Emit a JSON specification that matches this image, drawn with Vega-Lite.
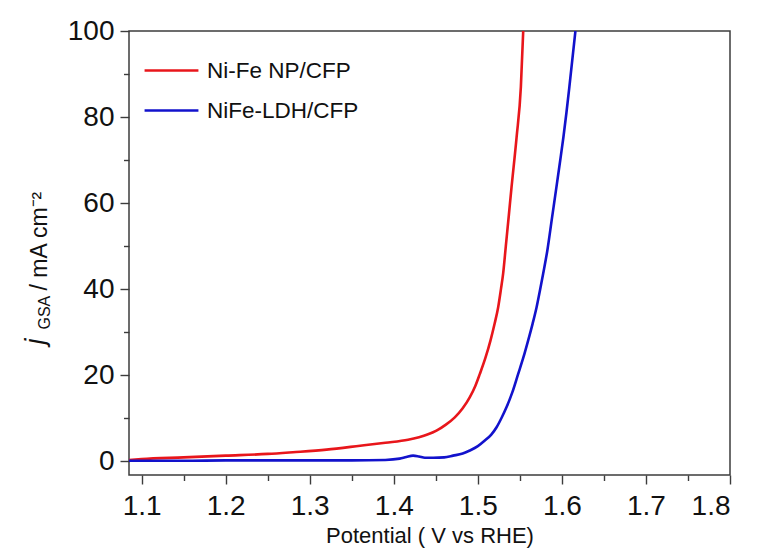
{
  "$schema": "https://vega.github.io/schema/vega-lite/v6.json",
  "width": 601,
  "height": 444,
  "autosize": {"type": "none"},
  "padding": {"left": 129, "top": 31, "right": 27, "bottom": 77},
  "background": "white",
  "config": {
    "font": "Liberation Sans",
    "view": {"stroke": "#3c3c3c", "strokeWidth": 1.5},
    "axis": {
      "grid": false,
      "domain": false,
      "tickColor": "#3c3c3c",
      "tickWidth": 1.4,
      "labelColor": "#111111",
      "titleColor": "#111111",
      "labelFont": "Liberation Sans",
      "titleFont": "Liberation Sans",
      "titleFontWeight": "normal"
    }
  },
  "data": {
    "values": [
      {"series": "Ni-Fe NP/CFP", "V": 1.085, "j": 0.3},
      {"series": "Ni-Fe NP/CFP", "V": 1.1, "j": 0.5},
      {"series": "Ni-Fe NP/CFP", "V": 1.15, "j": 0.9},
      {"series": "Ni-Fe NP/CFP", "V": 1.2, "j": 1.3},
      {"series": "Ni-Fe NP/CFP", "V": 1.25, "j": 1.7},
      {"series": "Ni-Fe NP/CFP", "V": 1.28, "j": 2.1},
      {"series": "Ni-Fe NP/CFP", "V": 1.32, "j": 2.7},
      {"series": "Ni-Fe NP/CFP", "V": 1.36, "j": 3.6},
      {"series": "Ni-Fe NP/CFP", "V": 1.39, "j": 4.3},
      {"series": "Ni-Fe NP/CFP", "V": 1.417, "j": 5.0},
      {"series": "Ni-Fe NP/CFP", "V": 1.43, "j": 5.6},
      {"series": "Ni-Fe NP/CFP", "V": 1.44, "j": 6.2},
      {"series": "Ni-Fe NP/CFP", "V": 1.4508, "j": 7.1},
      {"series": "Ni-Fe NP/CFP", "V": 1.462, "j": 8.5},
      {"series": "Ni-Fe NP/CFP", "V": 1.4726, "j": 10.2},
      {"series": "Ni-Fe NP/CFP", "V": 1.482, "j": 12.3},
      {"series": "Ni-Fe NP/CFP", "V": 1.4905, "j": 14.9},
      {"series": "Ni-Fe NP/CFP", "V": 1.497, "j": 17.5},
      {"series": "Ni-Fe NP/CFP", "V": 1.5024, "j": 20.3},
      {"series": "Ni-Fe NP/CFP", "V": 1.509, "j": 24.0},
      {"series": "Ni-Fe NP/CFP", "V": 1.5151, "j": 28.1},
      {"series": "Ni-Fe NP/CFP", "V": 1.52, "j": 32.0},
      {"series": "Ni-Fe NP/CFP", "V": 1.5242, "j": 35.8},
      {"series": "Ni-Fe NP/CFP", "V": 1.5275, "j": 40.0},
      {"series": "Ni-Fe NP/CFP", "V": 1.5301, "j": 43.6},
      {"series": "Ni-Fe NP/CFP", "V": 1.5333, "j": 50.0},
      {"series": "Ni-Fe NP/CFP", "V": 1.5368, "j": 57.0},
      {"series": "Ni-Fe NP/CFP", "V": 1.5401, "j": 63.7},
      {"series": "Ni-Fe NP/CFP", "V": 1.5461, "j": 75.3},
      {"series": "Ni-Fe NP/CFP", "V": 1.5512, "j": 87.0},
      {"series": "Ni-Fe NP/CFP", "V": 1.554, "j": 100.0},
      {"series": "NiFe-LDH/CFP", "V": 1.085, "j": 0.1},
      {"series": "NiFe-LDH/CFP", "V": 1.15, "j": 0.1},
      {"series": "NiFe-LDH/CFP", "V": 1.2, "j": 0.2},
      {"series": "NiFe-LDH/CFP", "V": 1.3, "j": 0.2},
      {"series": "NiFe-LDH/CFP", "V": 1.35, "j": 0.2},
      {"series": "NiFe-LDH/CFP", "V": 1.39, "j": 0.3},
      {"series": "NiFe-LDH/CFP", "V": 1.407, "j": 0.6},
      {"series": "NiFe-LDH/CFP", "V": 1.415, "j": 1.0},
      {"series": "NiFe-LDH/CFP", "V": 1.423, "j": 1.3},
      {"series": "NiFe-LDH/CFP", "V": 1.43, "j": 1.1},
      {"series": "NiFe-LDH/CFP", "V": 1.437, "j": 0.8},
      {"series": "NiFe-LDH/CFP", "V": 1.447, "j": 0.8},
      {"series": "NiFe-LDH/CFP", "V": 1.46, "j": 0.9},
      {"series": "NiFe-LDH/CFP", "V": 1.4706, "j": 1.3},
      {"series": "NiFe-LDH/CFP", "V": 1.482, "j": 1.8},
      {"series": "NiFe-LDH/CFP", "V": 1.4905, "j": 2.5},
      {"series": "NiFe-LDH/CFP", "V": 1.5, "j": 3.5},
      {"series": "NiFe-LDH/CFP", "V": 1.5083, "j": 4.8},
      {"series": "NiFe-LDH/CFP", "V": 1.516, "j": 6.2},
      {"series": "NiFe-LDH/CFP", "V": 1.5223, "j": 7.9},
      {"series": "NiFe-LDH/CFP", "V": 1.528, "j": 10.0},
      {"series": "NiFe-LDH/CFP", "V": 1.5342, "j": 12.6},
      {"series": "NiFe-LDH/CFP", "V": 1.541, "j": 16.0},
      {"series": "NiFe-LDH/CFP", "V": 1.548, "j": 20.3},
      {"series": "NiFe-LDH/CFP", "V": 1.554, "j": 24.0},
      {"series": "NiFe-LDH/CFP", "V": 1.5599, "j": 28.1},
      {"series": "NiFe-LDH/CFP", "V": 1.5652, "j": 32.0},
      {"series": "NiFe-LDH/CFP", "V": 1.5699, "j": 35.8},
      {"series": "NiFe-LDH/CFP", "V": 1.574, "j": 39.8},
      {"series": "NiFe-LDH/CFP", "V": 1.5777, "j": 43.6},
      {"series": "NiFe-LDH/CFP", "V": 1.5827, "j": 49.0},
      {"series": "NiFe-LDH/CFP", "V": 1.5882, "j": 56.5},
      {"series": "NiFe-LDH/CFP", "V": 1.5935, "j": 63.7},
      {"series": "NiFe-LDH/CFP", "V": 1.5977, "j": 69.5},
      {"series": "NiFe-LDH/CFP", "V": 1.6018, "j": 75.3},
      {"series": "NiFe-LDH/CFP", "V": 1.6054, "j": 81.0},
      {"series": "NiFe-LDH/CFP", "V": 1.6089, "j": 87.0},
      {"series": "NiFe-LDH/CFP", "V": 1.6161, "j": 100.0}
    ]
  },
  "layer": [
    {
      "transform": [{"filter": "datum.series === 'Ni-Fe NP/CFP'"}],
      "mark": {"type": "line", "strokeWidth": 2.6, "clip": true, "interpolate": "monotone"},
      "encoding": {
        "x": {
          "field": "V", "type": "quantitative",
          "scale": {"domain": [1.085, 1.8], "nice": false, "zero": false},
          "axis": {
            "orient": "bottom",
            "values": [1.1, 1.2, 1.3, 1.4, 1.5, 1.6, 1.7, 1.8],
            "format": ".1f",
            "tickSize": 9,
            "labelFontSize": 28,
            "labelPadding": 8,
            "title": "Potential ( V vs RHE)",
            "titleFontSize": 22,
            "titleBaseline": "alphabetic",
            "titleY": 67
          }
        },
        "y": {
          "field": "j", "type": "quantitative",
          "scale": {"domain": [-3.2, 100], "nice": false, "zero": false},
          "axis": {
            "orient": "left",
            "values": [0, 20, 40, 60, 80, 100],
            "tickSize": 9,
            "labelFontSize": 28,
            "labelPadding": 6,
            "title": "j",
            "titleFontStyle": "italic",
            "titleFontSize": 27,
            "titleAngle": 270,
            "titleAlign": "left",
            "titleBaseline": "alphabetic",
            "titleX": -86,
            "titleY": 313
          }
        },
        "color": {
          "field": "series", "type": "nominal",
          "scale": {"domain": ["Ni-Fe NP/CFP", "NiFe-LDH/CFP"], "range": ["#e8161b", "#1212cc"]},
          "legend": {
            "orient": "none",
            "legendX": 14,
            "legendY": 11,
            "title": null,
            "padding": 0,
            "symbolType": "stroke",
            "symbolSize": 2900,
            "symbolStrokeWidth": 2.6,
            "labelFontSize": 22.5,
            "labelFont": "Liberation Sans",
            "labelColor": "#111111",
            "labelOffset": 7,
            "rowPadding": -4
          }
        }
      }
    },
    {
      "transform": [{"filter": "datum.series === 'NiFe-LDH/CFP'"}],
      "mark": {"type": "line", "strokeWidth": 2.6, "clip": true, "interpolate": "monotone"},
      "encoding": {
        "x": {
          "field": "V", "type": "quantitative",
          "scale": {"domain": [1.085, 1.8], "nice": false, "zero": false},
          "axis": {
            "orient": "bottom",
            "values": [1.15, 1.25, 1.35, 1.45, 1.55, 1.65, 1.75],
            "tickSize": 5.5,
            "labels": false,
            "title": null
          }
        },
        "y": {
          "field": "j", "type": "quantitative",
          "scale": {"domain": [-3.2, 100], "nice": false, "zero": false},
          "axis": {
            "orient": "left",
            "values": [10, 30, 50, 70, 90],
            "tickSize": 5.5,
            "labels": false,
            "title": "GSA",
            "titleFontSize": 16,
            "titleAngle": 270,
            "titleAlign": "left",
            "titleBaseline": "alphabetic",
            "titleX": -80,
            "titleY": 298
          }
        },
        "color": {
          "field": "series", "type": "nominal",
          "scale": {"domain": ["Ni-Fe NP/CFP", "NiFe-LDH/CFP"], "range": ["#e8161b", "#1212cc"]}
        }
      }
    },
    {
      "transform": [{"filter": "datum.series === 'Ni-Fe NP/CFP' && datum.V === 1.085"}],
      "mark": {"type": "rule", "strokeOpacity": 0},
      "encoding": {
        "y": {
          "datum": 0, "type": "quantitative",
          "scale": {"domain": [-3.2, 100], "nice": false, "zero": false},
          "axis": {
            "orient": "left",
            "ticks": false,
            "labels": false,
            "title": "/ mA cm⁻²",
            "titleFontSize": 23,
            "titleAngle": 270,
            "titleAlign": "left",
            "titleBaseline": "alphabetic",
            "titleX": -83,
            "titleY": 259
          }
        }
      }
    }
  ],
  "resolve": {"axis": {"x": "independent", "y": "independent"}}
}
